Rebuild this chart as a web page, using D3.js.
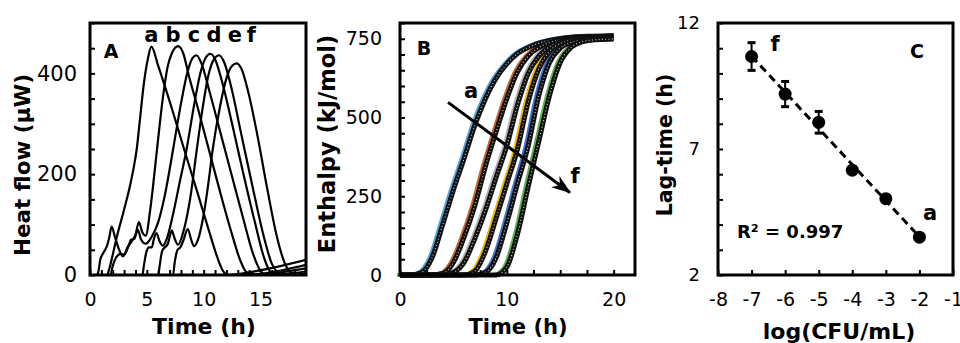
<!DOCTYPE html>
<html><head><meta charset="utf-8">
<script src="https://cdn.jsdelivr.net/npm/d3@7"></script>
<style>
body{margin:0;background:#fff}
svg{display:block}
text{font-family:"DejaVu Sans",Verdana,sans-serif;fill:#000}
</style>
</head><body>
<svg id="chart" width="960" height="343"></svg>
<script>
// ---------- Panel A: heat flow (µW) vs time (h) ----------
const heatA_a = [[0,0],[1.5,0],[1.6,5],[2.0,40],[2.3,70],[3.0,130],[3.5,175],[3.8,208],[4.1,248],[4.4,310],[4.7,373],[5.1,430],[5.4,453],[6.0,415],[7.0,345],[8.3,248],[9.5,160],[10.5,85],[11.2,35],[11.7,8],[12.1,0],[13,2],[16,14],[19,30]];
const heatA_b = [[0,0],[0.6,0],[0.75,8],[0.9,30],[1.2,45],[1.5,58],[1.7,75],[1.9,96],[2.2,75],[2.6,48],[2.9,37],[3.3,55],[3.7,68],[4.0,80],[4.3,105],[4.6,85],[4.9,78],[5.3,130],[5.85,240],[6.4,350],[6.8,410],[7.2,440],[7.75,454],[8.2,440],[8.7,395],[9.5,330],[10.5,245],[11.5,160],[12.5,80],[13.2,30],[13.8,5],[14.5,2],[17,10],[19,20]];
const heatA_c = [[0,0],[1.8,0],[2.0,18],[2.3,35],[2.7,42],[3.0,40],[3.4,58],[3.6,70],[3.9,72],[4.2,90],[4.5,70],[4.9,62],[5.4,75],[6.0,105],[6.6,160],[7.3,248],[8.0,340],[8.6,405],[9.0,430],[9.35,436],[9.8,420],[10.5,365],[11.5,280],[12.5,195],[13.5,110],[14.3,45],[14.9,12],[15.3,2],[16,3],[19,13]];
const heatA_d = [[0,0],[4.6,0],[4.75,20],[4.95,45],[5.2,55],[5.45,55],[5.6,70],[5.85,83],[6.1,68],[6.4,58],[6.8,75],[7.3,120],[7.9,185],[8.5,250],[9.1,330],[9.7,400],[10.2,432],[10.6,439],[11.0,428],[11.6,385],[12.5,300],[13.5,200],[14.5,105],[15.3,35],[15.8,8],[16.2,1],[17,2],[19,7]];
const heatA_e = [[0,0],[6.0,0],[6.15,22],[6.35,48],[6.6,55],[6.85,62],[7.0,75],[7.2,88],[7.45,72],[7.75,60],[8.2,85],[8.8,150],[9.4,250],[9.9,330],[10.4,395],[10.9,428],[11.35,436],[11.8,422],[12.4,375],[13.3,280],[14.3,175],[15.3,75],[16.0,22],[16.5,5],[16.9,0],[19,3]];
const heatA_f = [[0,0],[7.3,0],[7.45,25],[7.7,50],[7.95,55],[8.2,68],[8.6,91],[8.9,70],[9.15,57],[9.5,70],[10.0,120],[10.4,180],[10.8,250],[11.4,330],[12.0,390],[12.5,415],[12.9,420],[13.3,410],[13.9,365],[14.7,280],[15.6,170],[16.4,80],[17.1,25],[17.6,5],[18.0,0],[19,0]];
const heatSeries = [heatA_a, heatA_b, heatA_c, heatA_d, heatA_e, heatA_f];
const curveLetters = ["a","b","c","d","e","f"];
const letterTimesA = [5.4, 7.3, 9.15, 10.9, 12.75, 14.2];
const tickA_x = [0,5,10,15];
const tickA_y = [0,200,400];

// ---------- Panel B: enthalpy (kJ/mol) vs time (h) ----------
const timeB = [0,1,2,3,4,5,6,7,8,9,10,11,12,13,14,15,16,17,18,19,20];
const enthB_a = [0,0,8,55,160,270,370,475,560,625,670,703,722,736,745,751,755,757,758,759,760];
const enthB_b = [0,0,0,0,5,40,120,220,345,455,560,645,695,722,738,746,751,754,756,757,758];
const enthB_c = [0,0,0,0,0,8,40,115,205,310,410,540,640,695,725,740,747,750,752,754,755];
const enthB_d = [0,0,0,0,0,0,0,12,75,180,290,400,550,655,710,735,745,749,751,752,753];
const enthB_e = [0,0,0,0,0,0,0,0,8,55,165,290,410,570,675,720,738,745,748,750,751];
const enthB_f = [0,0,0,0,0,0,0,0,0,0,25,130,280,425,570,675,722,740,746,748,749];
const enthSeries = [enthB_a, enthB_b, enthB_c, enthB_d, enthB_e, enthB_f];
const fitColors = ["#4ea6e0","#c8652e","#b4b4b4","#f4b800","#3f74c8","#5bb04c"];
const tickB_x = [0,10,20];
const tickB_y = [0,250,500,750];

// ---------- Panel C: lag-time vs log(CFU/mL) ----------
const logCFU = [-7,-6,-5,-4,-3,-2];
const lagTime = [10.67,9.18,8.06,6.16,5.03,3.5];
const lagErr = [0.55,0.5,0.43,0.12,0.12,0.1];
const tickC_x = [-8,-7,-6,-5,-4,-3,-2,-1];
const tickC_y = [2,7,12];

const svg = d3.select("#chart");

function frame(x, y) {
  svg.append("rect")
    .attr("x", x.range()[0]).attr("y", y.range()[1])
    .attr("width", x.range()[1]-x.range()[0]).attr("height", y.range()[0]-y.range()[1])
    .attr("fill","none").attr("stroke","#000").attr("stroke-width",3);
}
function minorTicks(x, y, xvals, yvals, len) {
  svg.append("g").attr("transform",`translate(${x.range()[0]},0)`)
    .call(d3.axisRight(y).tickValues(yvals).tickSize(len).tickFormat(""))
    .call(g=>{g.select(".domain").remove(); g.selectAll("line").attr("stroke","#000").attr("stroke-width",2);});
  svg.append("g").attr("transform",`translate(0,${y.range()[0]})`)
    .call(d3.axisTop(x).tickValues(xvals).tickSize(len).tickFormat(""))
    .call(g=>{g.select(".domain").remove(); g.selectAll("line").attr("stroke","#000").attr("stroke-width",2);});
}
function tickLabels(x, y, xvals, yvals, padY, padX, fsY, fsX) {
  svg.append("g").attr("transform",`translate(${x.range()[0]},0)`)
    .call(d3.axisLeft(y).tickValues(yvals).tickSize(0).tickPadding(padY).tickFormat(d=>String(d)))
    .call(g=>{g.select(".domain").remove(); g.selectAll("text").attr("font-size",fsY).attr("font-family","DejaVu Sans").attr("fill","#000");});
  svg.append("g").attr("transform",`translate(0,${y.range()[0]})`)
    .call(d3.axisBottom(x).tickValues(xvals).tickSize(0).tickPadding(padX).tickFormat(d=>String(d)))
    .call(g=>{g.select(".domain").remove(); g.selectAll("text").attr("font-size",fsX).attr("font-family","DejaVu Sans").attr("fill","#000");});
}
function label(txt, x, y, size, opts={}) {
  const t = svg.append("text").text(txt).attr("x",x).attr("y",y)
    .attr("font-size",size).attr("font-weight",opts.weight||"bold")
    .attr("text-anchor",opts.anchor||"middle");
  if (opts.rotate) t.attr("transform",`rotate(-90,${x},${y})`);
  return t;
}

// ===== Panel A =====
const xA = d3.scaleLinear().domain([0,19]).range([90,306]);
const yA = d3.scaleLinear().domain([0,500]).range([275,23]);
const lineA = d3.line().x(d=>xA(d[0])).y(d=>yA(d[1])).curve(d3.curveMonotoneX);
svg.append("defs").append("clipPath").attr("id","clipA").append("rect")
  .attr("x",90).attr("y",23).attr("width",216).attr("height",252);
svg.append("g").attr("clip-path","url(#clipA)").selectAll("path").data(heatSeries).join("path")
  .attr("d",lineA).attr("fill","none").attr("stroke","#000").attr("stroke-width",2.2);
minorTicks(xA, yA, d3.range(0,19,1), d3.range(0,501,50), 5);
tickLabels(xA, yA, tickA_x, tickA_y, 13, 18, 21, 19);
frame(xA, yA);
curveLetters.forEach((l,i)=>label(l, xA(letterTimesA[i]), 42, 21));
label("A", 111, 58, 19);
label("Heat flow (µW)", 29.5, 165, 21.5, {rotate:true});
label("Time (h)", 204, 334, 22);

// ===== Panel B =====
const xB = d3.scaleLinear().domain([0,22]).range([400,635]);
const yB = d3.scaleLinear().domain([0,800]).range([275,23]);
const lineB = d3.line().x((d,i)=>xB(timeB[i])).y(d=>yB(d)).curve(d3.curveMonotoneX);
const gB = svg.append("g");
enthSeries.forEach((s,i)=>{
  gB.append("path").attr("d",lineB(s)).attr("fill","none")
    .attr("stroke",fitColors[i]).attr("stroke-width",4).attr("transform","translate(-2.5,0)");
});
enthSeries.forEach((s,i)=>{
  gB.append("path").attr("d",lineB(s)).attr("fill","none")
    .attr("stroke","#111").attr("stroke-width",5);
  gB.append("path").attr("d",lineB(s)).attr("fill","none")
    .attr("stroke","#fff").attr("stroke-opacity",0.85).attr("stroke-width",1.1).attr("stroke-dasharray","0.9 2.4");
});
minorTicks(xB, yB, d3.range(0,22.01,2.5), d3.range(0,801,50), 5);
tickLabels(xB, yB, tickB_x, tickB_y, 18, 18, 19, 19);
frame(xB, yB);
// arrow a -> f
const defs = svg.append("defs");
defs.append("marker").attr("id","arrowHead").attr("viewBox","0 0 14 10").attr("refX",13).attr("refY",5)
  .attr("markerWidth",6.5).attr("markerHeight",4.8).attr("markerUnits","strokeWidth").attr("orient","auto")
  .append("path").attr("d","M0,0 L14,5 L0,10 L4,5 Z").attr("fill","#000");
svg.append("line").attr("x1",xB(4.5)).attr("y1",yB(548)).attr("x2",xB(15.9)).attr("y2",yB(262))
  .attr("stroke","#000").attr("stroke-width",3).attr("marker-end","url(#arrowHead)");
label("a", xB(6.65), yB(562), 21);
label("f", xB(16.4), yB(292), 21);
label("B", 424, 55, 19);
label("Enthalpy (kJ/mol)", 335, 144, 22.5, {rotate:true});
label("Time (h)", 518, 334, 21);

// ===== Panel C =====
const xC = d3.scaleLinear().domain([-8,-1]).range([718,953]);
const yC = d3.scaleLinear().domain([2,12]).range([275,23]);
const mx = d3.mean(logCFU), my = d3.mean(lagTime);
const slope = d3.sum(logCFU.map((v,i)=>(v-mx)*(lagTime[i]-my))) / d3.sum(logCFU.map(v=>(v-mx)*(v-mx)));
const icpt = my - slope*mx;
const xr = d3.extent(logCFU);
svg.append("line").attr("x1",xC(xr[0])).attr("y1",yC(icpt+slope*xr[0]))
  .attr("x2",xC(xr[1])).attr("y2",yC(icpt+slope*xr[1]))
  .attr("stroke","#000").attr("stroke-width",3).attr("stroke-dasharray","8 5");
const gC = svg.append("g");
logCFU.forEach((v,i)=>{
  const cx = xC(v);
  gC.append("line").attr("x1",cx).attr("x2",cx).attr("y1",yC(lagTime[i]-lagErr[i])).attr("y2",yC(lagTime[i]+lagErr[i]))
    .attr("stroke","#000").attr("stroke-width",2);
  [lagTime[i]-lagErr[i], lagTime[i]+lagErr[i]].forEach(e=>{
    gC.append("line").attr("x1",cx-4).attr("x2",cx+4).attr("y1",yC(e)).attr("y2",yC(e))
      .attr("stroke","#000").attr("stroke-width",3);
  });
  gC.append("circle").attr("cx",cx).attr("cy",yC(lagTime[i])).attr("r",6.5).attr("fill","#000");
});
minorTicks(xC, yC, d3.range(-8,-0.9,1), d3.range(2,12.01,1), 5);
tickLabels(xC, yC, tickC_x, tickC_y, 18, 18, 18, 19);
frame(xC, yC);
label("f", 775, 51, 21);
label("a", 930, 220, 21);
label("C", 917, 58, 19);
label("R² = 0.997", 737, 238, 18, {anchor:"start"});
label("Lag-time (h)", 672, 145, 20.5, {rotate:true});
label("log(CFU/mL)", 839, 339, 22);
</script>
</body></html>
